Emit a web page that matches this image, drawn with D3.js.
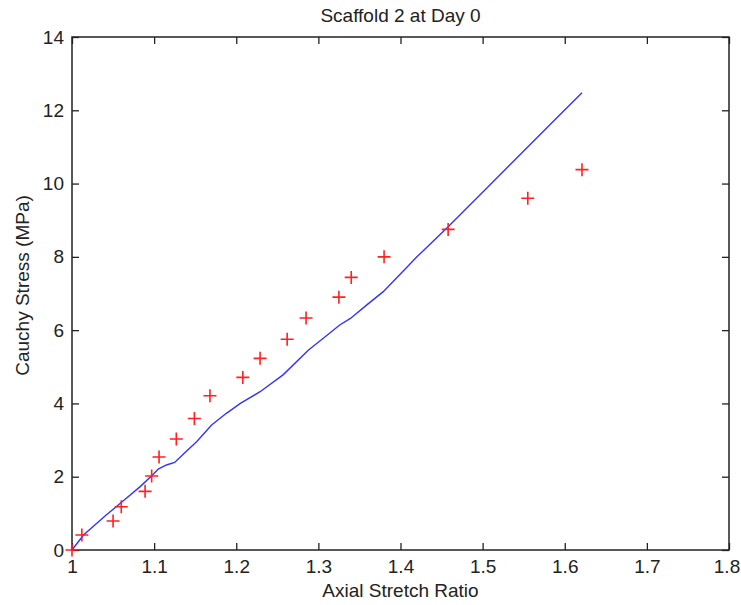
<!DOCTYPE html>
<html>
<head>
<meta charset="utf-8">
<script src="https://cdn.jsdelivr.net/npm/d3@7"></script>
<style>
  html, body { margin: 0; padding: 0; background: #fff; }
  svg { display: block; }
  text { font-family: "Liberation Sans", Arial, Helvetica, sans-serif; fill: #222; }
</style>
</head>
<body>
<svg id="chart" width="741" height="605"></svg>
<script>
// ---- data ----
const title = "Scaffold 2 at Day 0";
const xLabel = "Axial Stretch Ratio";
const yLabel = "Cauchy Stress (MPa)";

const xTicks = [1, 1.1, 1.2, 1.3, 1.4, 1.5, 1.6, 1.7, 1.8];
const yTicks = [0, 2, 4, 6, 8, 10, 12, 14];

// experimental points (red +)
const expStretch = [1.000, 1.012, 1.050, 1.060, 1.089, 1.097, 1.106, 1.127, 1.149, 1.168, 1.208, 1.229, 1.262, 1.285, 1.325, 1.340, 1.380, 1.458, 1.555, 1.621];
const expStress  = [0.00, 0.41, 0.79, 1.18, 1.60, 2.02, 2.54, 3.03, 3.59, 4.21, 4.71, 5.23, 5.75, 6.33, 6.90, 7.44, 8.00, 8.75, 9.60, 10.38];

// model curve (blue line)
const modelStretch = [1.000, 1.014, 1.042, 1.064, 1.083, 1.099, 1.105, 1.115, 1.125, 1.138, 1.152, 1.170, 1.188, 1.205, 1.229, 1.257, 1.288, 1.306, 1.326, 1.339, 1.359, 1.379, 1.399, 1.420, 1.458, 1.507, 1.588, 1.621];
const modelStress  = [0.00, 0.41, 0.96, 1.37, 1.73, 2.07, 2.21, 2.32, 2.39, 2.67, 2.96, 3.41, 3.73, 4.00, 4.32, 4.78, 5.46, 5.78, 6.14, 6.32, 6.69, 7.05, 7.51, 8.00, 8.82, 9.92, 11.74, 12.48];

// ---- layout ----
const L = 72, R = 729, T = 37, B = 550;
const svg = d3.select("#chart");

const x = d3.scaleLinear().domain([1, 1.8]).range([L, R]);
const y = d3.scaleLinear().domain([0, 14]).range([B, T]);

const tickLen = 7;
const fmtX = d3.format(".1~f");

// axes
const gx = svg.append("g").attr("transform", `translate(0,${B})`)
  .call(d3.axisBottom(x).tickValues(xTicks).tickFormat(fmtX).tickSizeInner(-tickLen).tickSizeOuter(0).tickPadding(10));
const gxt = svg.append("g").attr("transform", `translate(0,${T})`)
  .call(d3.axisTop(x).tickValues(xTicks).tickFormat("").tickSizeInner(-tickLen).tickSizeOuter(0));
const gy = svg.append("g").attr("transform", `translate(${L},0)`)
  .call(d3.axisLeft(y).tickValues(yTicks).tickSizeInner(-tickLen).tickSizeOuter(0).tickPadding(8));
const gyr = svg.append("g").attr("transform", `translate(${R},0)`)
  .call(d3.axisRight(y).tickValues(yTicks).tickFormat("").tickSizeInner(-tickLen).tickSizeOuter(0));

[gx, gxt, gy, gyr].forEach(g => {
  g.select(".domain").remove();
  g.selectAll(".tick line").attr("stroke", "#222").attr("stroke-width", 1.3);
  g.selectAll(".tick text").attr("font-size", 19).attr("fill", "#222")
    .style("font-family", '"Liberation Sans", Arial, sans-serif');
});
// keep the last x label inside the page
gx.selectAll(".tick text").filter(d => d === 1.8).attr("dx", -2.5);

// frame
svg.append("rect").attr("x", L).attr("y", T).attr("width", R - L).attr("height", B - T)
  .attr("fill", "none").attr("stroke", "#222").attr("stroke-width", 1.5);

// model line
const lineData = modelStretch.map((s, i) => [s, modelStress[i]]);
svg.append("path").datum(lineData)
  .attr("fill", "none").attr("stroke", "#3333ff").attr("stroke-width", 1.4)
  .attr("d", d3.line().x(d => x(d[0])).y(d => y(d[1])));

// experimental markers
const pts = expStretch.map((s, i) => [s, expStress[i]]);
const arm = 6.5;
svg.append("g").selectAll("path").data(pts).join("path")
  .attr("transform", d => `translate(${x(d[0])},${y(d[1])})`)
  .attr("d", `M${-arm},0H${arm}M0,${-arm}V${arm}`)
  .attr("stroke", "#ff2020").attr("stroke-width", 1.6).attr("fill", "none");

// titles
svg.append("text").attr("x", (L + R) / 2).attr("y", 22).attr("text-anchor", "middle")
  .attr("font-size", 19).text(title);
svg.append("text").attr("x", (L + R) / 2).attr("y", 597).attr("text-anchor", "middle")
  .attr("font-size", 19).text(xLabel);
svg.append("text").attr("transform", `translate(29,${(T + B) / 2 - 8}) rotate(-90)`)
  .attr("text-anchor", "middle").attr("font-size", 19).text(yLabel);
</script>
</body>
</html>
